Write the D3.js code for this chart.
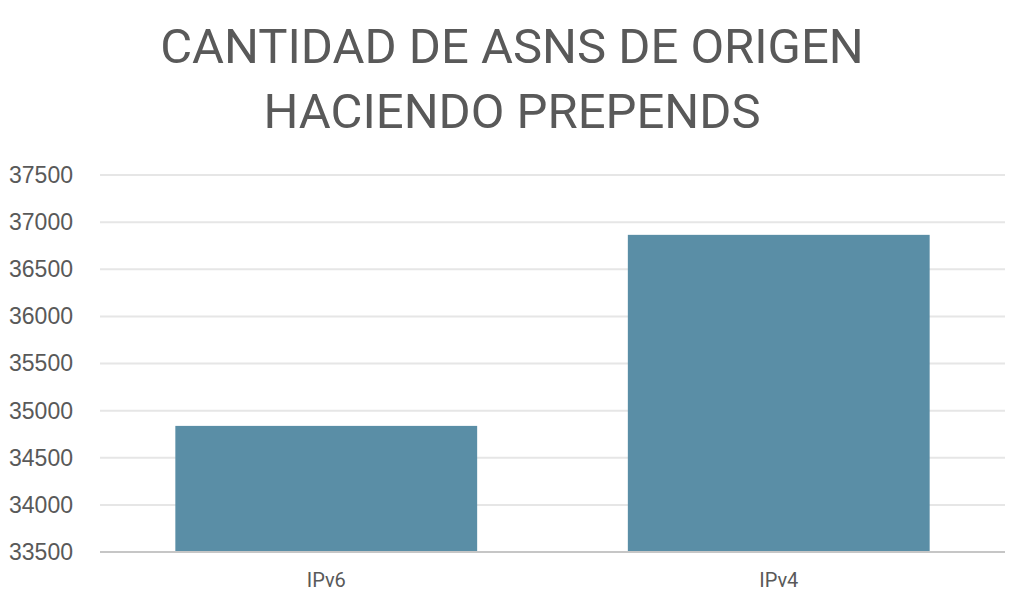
<!DOCTYPE html>
<html>
<head>
<meta charset="utf-8">
<script src="https://cdn.jsdelivr.net/npm/d3@7"></script>
<style>
  html, body { margin:0; padding:0; background:#fff; }
  svg { display:block; font-family:"Liberation Sans", Arial, sans-serif; }
</style>
</head>
<body>
<svg id="chart" width="1024" height="602"></svg>
<script>
/* Cantidad de ASNs de origen haciendo prepends */

const titleLines = ['CANTIDAD DE ASNS DE ORIGEN', 'HACIENDO PREPENDS'];
const categories = ['IPv6', 'IPv4'];
const values     = [34838, 36865];
const yTicks     = [33500, 34000, 34500, 35000, 35500, 36000, 36500, 37000, 37500];

const W = 1024, H = 602;
const m = { top:175, right:19, bottom:50, left:100 };
const svg = d3.select('#chart');

const x = d3.scaleBand().domain(categories).range([m.left, W - m.right]).paddingInner(0.333).paddingOuter(0.1665);
const y = d3.scaleLinear().domain([33500, 37500]).range([H - m.bottom, m.top]);

// title
svg.append('g').selectAll('text').data(titleLines).enter().append('text')
  .attr('x', 512).attr('y', (d, i) => 63 + i * 65)
  .attr('text-anchor', 'middle')
  .attr('fill', '#595959')
  .style('font-family', 'Roboto, "Liberation Sans", sans-serif')
  .style('font-size', '49px')
  .text(d => d);

// gridlines
svg.append('g').selectAll('line').data(yTicks.slice(1)).enter().append('line')
  .attr('x1', m.left).attr('x2', W - m.right)
  .attr('y1', d => y(d)).attr('y2', d => y(d))
  .attr('stroke', '#e6e6e6').attr('stroke-width', 2);

// y labels
const yAxis = svg.append('g').attr('transform', 'translate(' + (m.left - 27) + ',0)')
  .call(d3.axisLeft(y).tickValues(yTicks).tickSize(0).tickPadding(0).tickFormat(d3.format('d')));
yAxis.select('.domain').remove();
yAxis.selectAll('text').attr('fill', '#595959').style('font-size', '23px').style('font-family', '"Liberation Sans", Arial, sans-serif');

// bars
svg.append('g').selectAll('rect').data(values).enter().append('rect')
  .attr('x', (d, i) => x(categories[i]))
  .attr('width', x.bandwidth())
  .attr('y', d => y(d))
  .attr('height', d => y(33500) - y(d))
  .attr('fill', '#5a8ea6');

// baseline
svg.append('line')
  .attr('x1', m.left).attr('x2', W - m.right)
  .attr('y1', y(33500)).attr('y2', y(33500))
  .attr('stroke', '#c6c6c6').attr('stroke-width', 2);

// x labels
const xAxis = svg.append('g').attr('transform', 'translate(0,' + (H - m.bottom) + ')')
  .call(d3.axisBottom(x).tickSize(0).tickPadding(21));
xAxis.select('.domain').remove();
xAxis.selectAll('text').attr('fill', '#595959').style('font-size', '20px').style('font-family', 'Roboto, "Liberation Sans", sans-serif');
</script>
</body>
</html>
